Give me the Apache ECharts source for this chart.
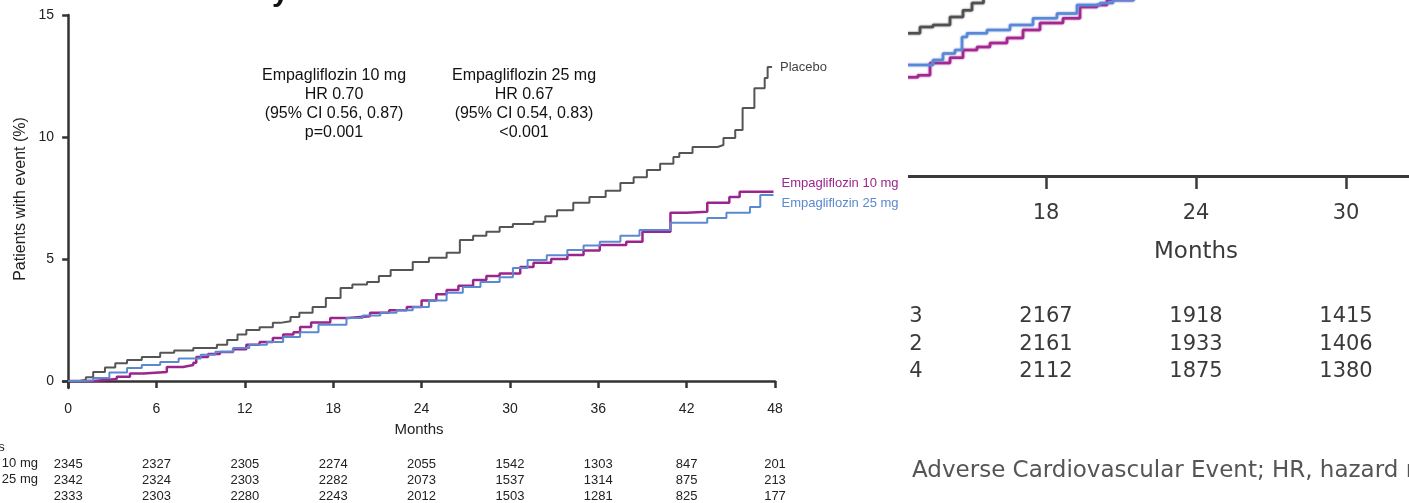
<!DOCTYPE html>
<html>
<head>
<meta charset="utf-8">
<script src="https://cdn.jsdelivr.net/npm/echarts@6/dist/echarts.min.js"></script>
<style>
  html, body { margin: 0; padding: 0; background: #fff; }
  #wrap { position: relative; width: 1409px; height: 503px; overflow: hidden; background: #fff; }
  #main { position: absolute; left: 0; top: 0; width: 1409px; height: 503px; }
  #insetClip { position: absolute; left: 908px; top: 0; width: 501px; height: 503px; overflow: hidden; background: #fff; }
  #inset { position: absolute; left: -400px; top: 0; width: 1100px; height: 503px; }
</style>
</head>
<body>
<div id="wrap">
  <div id="main"></div>
  <div id="insetClip"><div id="inset"></div></div>
</div>
<script>
// ---- Kaplan-Meier curves: cumulative % of patients with event, by month ----
const monthTicks = [0, 6, 12, 18, 24, 30, 36, 42, 48];
const pctTicks = [0, 5, 10, 15];

const seriesNames = ['Placebo', 'Empagliflozin 10 mg', 'Empagliflozin 25 mg'];

const placebo = [
  [0, 0], [0.8, 0.05], [1.2, 0.15], [1.7, 0.37], [2.5, 0.55], [3.2, 0.72], [4.0, 0.86], [5.0, 0.98],
  [6.25, 1.15], [7.2, 1.25], [8.5, 1.35], [10.1, 1.48], [10.8, 1.68], [11.5, 1.9], [12.1, 2.09],
  [13.0, 2.2], [13.9, 2.38], [14.4, 2.45], [15.1, 2.62], [15.7, 2.79], [16.6, 3.03], [17.5, 3.4],
  [18.5, 3.81], [19.3, 3.95], [20.3, 4.06], [21.1, 4.3], [21.9, 4.55], [23.4, 4.88], [24.5, 5.05],
  [25.7, 5.25], [26.6, 5.78], [27.5, 5.95], [28.4, 6.11], [29.3, 6.31], [30.2, 6.43], [31.6, 6.52],
  [32.4, 6.75], [33.2, 7.0], [34.3, 7.3], [35.4, 7.54], [36.5, 7.8], [37.5, 8.11], [38.4, 8.35],
  [39.3, 8.65], [40.2, 8.9], [41.1, 9.18], [41.5, 9.34], [42.4, 9.59], [44.1, 9.67], [44.5, 9.96],
  [45.3, 10.29], [45.8, 11.19], [46.6, 12.0], [47.3, 12.42], [47.5, 12.87], [47.8, 12.87]
];

const empa10 = [
  [0, 0], [0.8, 0.0], [1.7, 0.08], [3.3, 0.17], [4.2, 0.3], [5.1, 0.37], [6.7, 0.57], [7.8, 0.65],
  [8.5, 0.74], [8.7, 0.98], [9.5, 1.1], [10.3, 1.19], [11.2, 1.3], [12.1, 1.48], [13.0, 1.6],
  [13.9, 1.76], [14.6, 1.9], [15.3, 2.0], [15.75, 2.21], [16.5, 2.4], [17.8, 2.58], [19.0, 2.65],
  [20.5, 2.79], [21.8, 2.9], [23.0, 3.03], [24.0, 3.3], [25.0, 3.55], [25.7, 3.73], [26.5, 3.9],
  [27.5, 4.14], [28.4, 4.3], [29.3, 4.4], [30.7, 4.67], [31.6, 4.84], [32.8, 5.0], [33.9, 5.16],
  [35.0, 5.35], [36.1, 5.57], [37.9, 5.7], [39.0, 6.11], [40.4, 6.11], [40.9, 6.89], [42.0, 6.93],
  [43.4, 7.3], [44.9, 7.54], [45.6, 7.75], [47.9, 7.75]
];

const empa25 = [
  [0, 0], [0.8, 0.02], [1.7, 0.12], [2.8, 0.35], [4.0, 0.53], [5.0, 0.65], [6.25, 0.78], [7.5, 0.92],
  [9.0, 1.07], [10.0, 1.2], [11.2, 1.35], [12.3, 1.48], [13.5, 1.6], [14.6, 1.8], [15.75, 2.0],
  [17.0, 2.3], [18.9, 2.58], [20.0, 2.68], [21.2, 2.79], [22.3, 2.9], [23.4, 3.03], [24.5, 3.3],
  [25.7, 3.61], [26.8, 3.85], [28.0, 4.06], [29.3, 4.25], [30.2, 4.63], [31.2, 4.96], [32.5, 5.15],
  [33.9, 5.37], [35.0, 5.55], [36.1, 5.7], [37.5, 5.95], [38.8, 6.19], [40.4, 6.19], [40.9, 6.48],
  [42.0, 6.48], [43.4, 6.68], [44.7, 6.89], [46.3, 7.13], [47.0, 7.62], [47.9, 7.62]
];

// Number of patients at risk under each month tick
const riskHeader = 'No. of patients';
const riskEmpa10 = [2345, 2327, 2305, 2274, 2055, 1542, 1303, 847, 201];
const riskEmpa25 = [2342, 2324, 2303, 2282, 2073, 1537, 1314, 875, 213];
const riskPlacebo = [2333, 2303, 2280, 2243, 2012, 1503, 1281, 825, 177];

const hrBlocks = [
  ['Empagliflozin 10 mg', 'HR 0.70', '(95% CI 0.56, 0.87)', 'p=0.001'],
  ['Empagliflozin 25 mg', 'HR 0.67', '(95% CI 0.54, 0.83)', '<0.001']
];

// ---- Enlarged panel of a second plot (months 12-32) ----
const insetTicks = [12, 18, 24, 30, 36];
const insetPlacebo = [
  [12.4, 4.22], [12.96, 4.40], [13.48, 4.46], [14.16, 4.70], [14.68, 4.90], [15.04, 5.11], [15.5, 5.4]
];
const insetEmpa10 = [
  [12.4, 2.92], [12.88, 2.98], [13.36, 3.34], [14.16, 3.49], [14.68, 3.72], [15.24, 3.81], [15.76, 3.93],
  [16.44, 4.08], [17.08, 4.31], [17.76, 4.52], [18.68, 4.66], [19.36, 4.99], [20.04, 5.05], [20.44, 5.2], [21.5, 5.4]
];
const insetEmpa25 = [
  [12.4, 3.28], [13.48, 3.43], [13.88, 3.62], [14.36, 3.72], [14.64, 4.11], [14.84, 4.22], [15.64, 4.31],
  [16.56, 4.46], [17.48, 4.66], [18.44, 4.80], [19.24, 5.05], [20.16, 5.11], [20.68, 5.2], [21.5, 5.4]
];
const insetRiskA = ['2283', '2167', '1918', '1415', ''];
const insetRiskB = ['2292', '2161', '1933', '1406', ''];
const insetRiskC = ['2254', '2112', '1875', '1380', ''];
const insetFootnote = 'Adverse Cardiovascular Event; HR, hazard ratio';

const COLORS = { placebo: '#555555', empa10: '#9c258d', empa25: '#5b89cf' };
const FONT = '"Liberation Sans", Arial, sans-serif';
const INSET_FONT = '"DejaVu Sans", sans-serif';

// ---------------- main chart ----------------
const main = echarts.init(document.getElementById('main'), null, { renderer: 'canvas' });

function riskAxis(values, offset) {
  return {
    type: 'value', gridIndex: 0, position: 'bottom', offset: offset,
    min: -0.35, max: 48,
    axisLine: { show: false }, axisTick: { show: false }, splitLine: { show: false },
    axisLabel: {
      customValues: monthTicks, margin: 0, fontFamily: FONT, fontSize: 13, color: '#222',
      formatter: v => String(values[monthTicks.indexOf(v)])
    }
  };
}

const measure = document.createElement('canvas').getContext('2d');
measure.font = '13px ' + FONT;
const rowLabelX = 38 - measure.measureText(seriesNames[1]).width;

function lineSeries(name, data, color, width, labelOffset) {
  return {
    name, type: 'line', data, step: 'end', symbol: 'none', xAxisIndex: 0, yAxisIndex: 0,
    lineStyle: { color, width }, itemStyle: { color },
    endLabel: {
      show: true, formatter: name, color: name === 'Placebo' ? '#444' : color,
      fontFamily: FONT, fontSize: 13, distance: 6, offset: labelOffset
    },
    z: name === 'Placebo' ? 3 : (name === seriesNames[1] ? 4 : 5)
  };
}

main.setOption({
  animation: false,
  backgroundColor: '#fff',
  grid: { left: 63, right: 1409 - 775, top: 15, bottom: 503 - 388, outerBoundsMode: 'none' },
  xAxis: [
    {
      type: 'value', min: -0.35, max: 48,
      axisLine: { show: true, lineStyle: { color: '#333', width: 2.5 } },
      axisTick: { show: true, customValues: monthTicks, length: 7, lineStyle: { color: '#333', width: 2.5 } },
      axisLabel: { customValues: monthTicks, margin: 14, fontFamily: FONT, fontSize: 14, color: '#222' },
      splitLine: { show: false },
      name: 'Months', nameLocation: 'middle', nameGap: 34,
      nameTextStyle: { fontFamily: FONT, fontSize: 15, color: '#222' }
    },
    riskAxis(riskEmpa10, 70),
    riskAxis(riskEmpa25, 86),
    riskAxis(riskPlacebo, 102)
  ],
  yAxis: {
    type: 'value', min: -0.29, max: 15,
    axisLine: { show: true, lineStyle: { color: '#333', width: 2.5 } },
    axisTick: { show: true, customValues: pctTicks, length: 6, lineStyle: { color: '#333', width: 2.5 } },
    axisLabel: { customValues: pctTicks, margin: 9, fontFamily: FONT, fontSize: 14, color: '#222' },
    splitLine: { show: false }
  },
  series: [
    lineSeries(seriesNames[0], placebo, COLORS.placebo, 2, [2, 0]),
    lineSeries(seriesNames[1], empa10, COLORS.empa10, 2.5, [2, -8]),
    lineSeries(seriesNames[2], empa25, COLORS.empa25, 2, [2, 8])
  ],
  graphic: [
    { type: 'text', x: 272, y: 8, style: { text: 'y', font: 'bold 30px ' + FONT, fill: '#111', verticalAlign: 'bottom' } },
    {
      type: 'text', x: 21, y: 199, rotation: Math.PI / 2,
      style: { text: 'Patients with event (%)', font: '16px ' + FONT, fill: '#222', align: 'center', verticalAlign: 'middle' }
    },
    {
      type: 'text', x: 334, y: 66,
      style: { text: hrBlocks[0].join('\n'), font: '16px ' + FONT, lineHeight: 19, fill: '#111', align: 'center', verticalAlign: 'top' }
    },
    {
      type: 'text', x: 524, y: 66,
      style: { text: hrBlocks[1].join('\n'), font: '16px ' + FONT, lineHeight: 19, fill: '#111', align: 'center', verticalAlign: 'top' }
    },
    { type: 'text', x: rowLabelX, y: 447, style: { text: riskHeader, font: '13px ' + FONT, fill: '#222', verticalAlign: 'middle' } },
    { type: 'text', x: rowLabelX, y: 463, style: { text: seriesNames[1], font: '13px ' + FONT, fill: '#222', verticalAlign: 'middle' } },
    { type: 'text', x: rowLabelX, y: 479, style: { text: seriesNames[2], font: '13px ' + FONT, fill: '#222', verticalAlign: 'middle' } },
    { type: 'text', x: rowLabelX, y: 495, style: { text: seriesNames[0], font: '13px ' + FONT, fill: '#222', verticalAlign: 'middle' } }
  ]
});

// ---------------- enlarged panel ----------------
const inset = echarts.init(document.getElementById('inset'), null, { renderer: 'canvas' });

function insetRiskAxis(values, offset) {
  return {
    type: 'value', gridIndex: 0, position: 'bottom', offset: offset,
    min: 12, max: 36,
    axisLine: { show: false }, axisTick: { show: false }, splitLine: { show: false },
    axisLabel: {
      customValues: insetTicks, margin: 0, fontFamily: INSET_FONT, fontSize: 21, color: '#3a3a3a',
      formatter: v => values[insetTicks.indexOf(v)]
    }
  };
}

function insetLine(data, color) {
  return {
    type: 'line', data, step: 'end', symbol: 'none',
    lineStyle: { color, width: 2.5, shadowColor: color, shadowBlur: 2 }
  };
}

inset.setOption({
  animation: false,
  backgroundColor: '#fff',
  grid: { left: 388, width: 600, top: 0, height: 183, outerBoundsMode: 'none' },
  xAxis: [
    {
      type: 'value', min: 12, max: 36, interval: 6,
      axisLine: { show: true, lineStyle: { color: '#3a3a3a', width: 3 } },
      axisTick: { show: true, length: 13, lineStyle: { color: '#3a3a3a', width: 2.5 } },
      axisLabel: { margin: 20, fontFamily: INSET_FONT, fontSize: 21, color: '#3a3a3a' },
      splitLine: { show: false },
      name: 'Months', nameLocation: 'middle', nameGap: 58,
      nameTextStyle: { fontFamily: INSET_FONT, fontSize: 23, color: '#3a3a3a' }
    },
    insetRiskAxis(insetRiskA, 123),
    insetRiskAxis(insetRiskB, 151),
    insetRiskAxis(insetRiskC, 178)
  ],
  yAxis: { type: 'value', min: -0.207, max: 5.2, show: false },
  series: [
    insetLine(insetPlacebo, '#505050'),
    insetLine(insetEmpa10, '#a3288f'),
    insetLine(insetEmpa25, '#5b88d6')
  ],
  graphic: [
    { type: 'text', x: 404, y: 471, style: { text: insetFootnote, font: '23px ' + INSET_FONT, fill: '#555', verticalAlign: 'middle' } }
  ]
});
</script>
</body>
</html>
